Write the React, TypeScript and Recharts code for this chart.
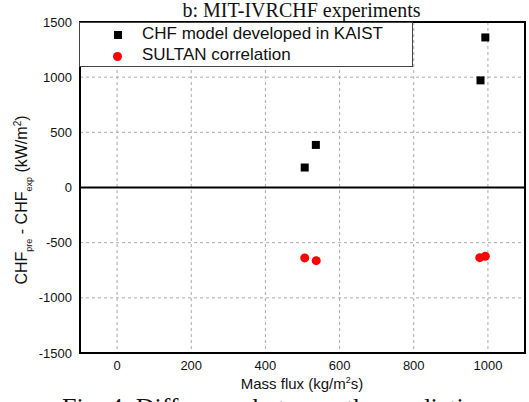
import React from 'react';
import {
  ScatterChart, Scatter, XAxis, YAxis, CartesianGrid, ReferenceLine, ReferenceArea,
} from 'recharts';

// Valeurs (flux massique, écart CHF)
const kaistFlux = [506, 536, 980, 993];
const kaistDiff = [181, 386, 971, 1360];
const sultanFlux = [506, 537, 978, 993];
const sultanDiff = [-638, -663, -636, -624];

const xTicks = [0, 200, 400, 600, 800, 1000];
const yTicks = [-1500, -1000, -500, 0, 500, 1000, 1500];

const legendNames = ['CHF model developed in KAIST', 'SULTAN correlation'];

const kaistData = kaistFlux.map((x, i) => ({ x, y: kaistDiff[i] }));
const sultanData = sultanFlux.map((x, i) => ({ x, y: sultanDiff[i] }));

const sans = '"Liberation Sans", Arial, sans-serif';
const serif = '"Liberation Serif", "Times New Roman", serif';

const SquareDot = (p: any) => (
  <rect x={p.cx - 4} y={p.cy - 4} width={8} height={8} fill="#000" />
);
const RedDot = (p: any) => <circle cx={p.cx} cy={p.cy} r={4.5} fill="#ff0000" />;

const YLabel = () => (
  <text
    transform="translate(27,200) rotate(-90)"
    textAnchor="middle"
    fontFamily={sans}
    fontSize={16}
    fill="#111"
  >
    CHF<tspan fontSize={9} dy={5}>pre</tspan>
    <tspan dy={-5}> - CHF</tspan>
    <tspan fontSize={9} dy={5}>exp</tspan>
    <tspan dy={-5}> (kW/m</tspan>
    <tspan fontSize={10} dy={-6}>2</tspan>
    <tspan dy={6}>)</tspan>
  </text>
);

const XLabel = () => (
  <text x={302} y={389} textAnchor="middle" fontFamily={sans} fontSize={15} fill="#111">
    Mass flux (kg/m<tspan fontSize={9} dy={-6}>2</tspan>
    <tspan dy={6}>s)</tspan>
  </text>
);

// legende dessinée à la main, au coin haut-gauche du cadre
const LegendBox = () => (
  <div
    style={{
      position: 'absolute', left: 79, top: 22,
      width: 334, height: 45, border: '1px solid #444', background: '#fff',
      fontFamily: sans, fontSize: 17, color: '#111', boxSizing: 'border-box',
    }}
  >
    <div style={{ position: 'relative', height: 22 }}>
      <div style={{ position: 'absolute', left: 34, top: 8, width: 8, height: 8, background: '#000' }} />
      <span style={{ position: 'absolute', left: 62, top: 1 }}>{legendNames[0]}</span>
    </div>
    <div style={{ position: 'relative', height: 22 }}>
      <div style={{ position: 'absolute', left: 33, top: 7, width: 9, height: 9, borderRadius: 5, background: '#ff0000' }} />
      <span style={{ position: 'absolute', left: 62, top: 0 }}>{legendNames[1]}</span>
    </div>
  </div>
);

export default function App() {
  return (
    <div style={{ position: 'absolute', left: 0, top: 0, width: 529, height: 402, overflow: 'hidden', background: '#fff' }}>
      <div style={{ position: 'absolute', left: 0, top: -1, width: 529, textAlign: 'center', paddingLeft: 74, boxSizing: 'border-box', fontFamily: serif, fontSize: 20, color: '#111' }}>
        b: MIT-IVRCHF experiments
      </div>
      <ScatterChart width={529} height={402} margin={{ top: 22, right: 4, left: 0, bottom: 0 }}>
        <CartesianGrid stroke="#aaa" strokeDasharray="3 3" />
        <XAxis
          dataKey="x" type="number" domain={[-100, 1100]} ticks={xTicks}
          height={49} tickLine={false} axisLine={{ stroke: '#000', strokeWidth: 2 }}
          tick={{ fill: '#111', fontSize: 13, fontFamily: sans }}
          label={<XLabel />}
        />
        <YAxis
          dataKey="y" type="number" domain={[-1500, 1500]} ticks={yTicks}
          width={80} tickLine={false} axisLine={{ stroke: '#000', strokeWidth: 2 }}
          tick={{ fill: '#111', fontSize: 13, fontFamily: sans }}
          label={<YLabel />}
        />
        <ReferenceArea x1={-100} x2={1100} y1={-1500} y2={1500} fill="none" stroke="#000" strokeWidth={2} />
        <ReferenceLine y={0} stroke="#000" strokeWidth={2} />
        <Scatter name={legendNames[0]} data={kaistData} shape={SquareDot} isAnimationActive={false} />
        <Scatter name={legendNames[1]} data={sultanData} shape={RedDot} isAnimationActive={false} />
      </ScatterChart>
      <LegendBox />
      <div style={{ position: 'absolute', left: 62, top: 393, whiteSpace: 'nowrap', fontFamily: serif, fontSize: 26, color: '#111' }}>
        Fig. 4. Difference between the predictions
      </div>
    </div>
  );
}
